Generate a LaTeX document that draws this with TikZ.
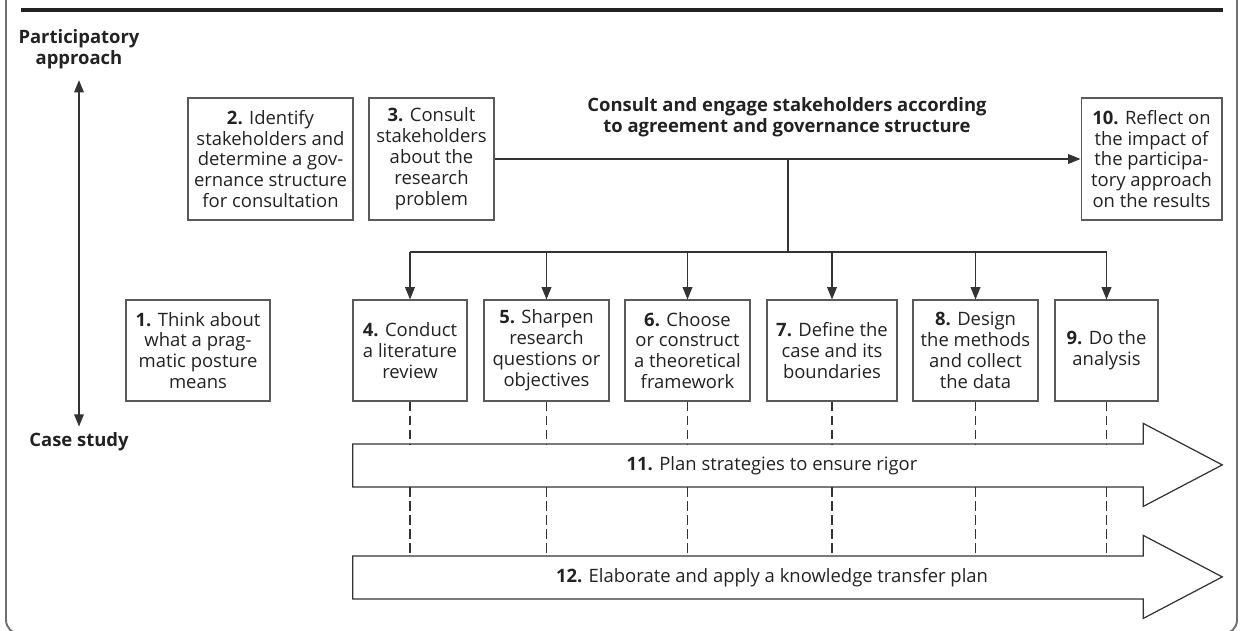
\documentclass[tikz,border=0pt]{standalone}
\usepackage{fontspec}
\setmainfont{Open Sans}
\usetikzlibrary{arrows.meta}
\usetikzlibrary{calc}

\definecolor{linegray}{HTML}{333333}
\definecolor{boxgray}{HTML}{5A5A5A}
\definecolor{framegray}{HTML}{707070}
\definecolor{textdark}{HTML}{222222}

\tikzset{
    every node/.style={font=\fontsize{10.5}{11.9}\selectfont, text=textdark},
    stepbox/.style={draw=boxgray, line width=0.6pt, align=center, inner sep=1pt},
    arr/.style={-{Triangle[length=7pt,width=5.5pt]}, line width=0.8pt, draw=linegray},
    dashline/.style={line width=0.6pt, draw=linegray, dash pattern=on 5.5pt off 2.5pt},
    shaft/.style={minimum width=15.8cm, minimum height=0.85cm, inner sep=0pt},
    bigarrow/.style={line width=0.7pt, draw=linegray}
}

\begin{document}
\begin{tikzpicture}[x=0.02cm, y=-0.02cm]
    \useasboundingbox (0,0) rectangle (1240,631);
    \draw[framegray, line width=1.1pt, rounded corners=8pt] (6,-20) rectangle (1237,634);
    \draw[textdark, line width=2.3pt] (21,10) -- (1223,10);

    \node[align=center, font=\fontsize{10.5}{11.9}\selectfont\bfseries] (pa) at (79,49) {Participatory\\approach};
    \node[font=\fontsize{10.5}{11.9}\selectfont\bfseries] (cs) at (79,442) {Case study};
    \draw[arr, {Triangle[length=7pt,width=5.5pt]}-{Triangle[length=7pt,width=5.5pt]}, shorten <=3pt] (pa.south) -- (cs.north);

    \node[stepbox, minimum width=2.88cm, minimum height=2.02cm] (b1) at (198,350.5) {\textbf{1.} Think about\\what a prag-\\matic posture\\means};
    \node[stepbox, minimum width=3.3cm, minimum height=2.44cm] (b2) at (270.5,159) {\textbf{2.} Identify\\stakeholders and\\determine a gov-\\ernance structure\\for consultation};
    \node[stepbox, minimum width=2.5cm, minimum height=2.44cm] (b3) at (431.5,159) {\textbf{3.} Consult\\stakeholders\\about the\\research\\problem};
    \node[stepbox, minimum width=2.82cm, minimum height=2.44cm] (b10) at (1151.5,159) {\textbf{10.} Reflect on\\the impact of\\the participa-\\tory approach\\on the results};
    \node[align=center, font=\fontsize{10.5}{11.9}\selectfont\bfseries] (consult) at (787,117.5) {Consult and engage stakeholders according\\to agreement and governance structure};

    \foreach \n/\x/\w/\txt in {4/410/2.28/{\textbf{4.} Conduct\\a literature\\review},
        5/546.5/2.5/{\textbf{5.} Sharpen\\research\\questions or\\objectives},
        6/687.5/2.5/{\textbf{6.} Choose\\or construct\\a theoretical\\framework},
        7/832/2.6/{\textbf{7.} Define the\\case and its\\boundaries},
        8/975.5/2.5/{\textbf{8.} Design\\the methods\\and collect\\the data},
        9/1106.5/2.06/{\textbf{9.} Do the\\analysis}}
        \node[stepbox, minimum width=\w cm, minimum height=2.02cm] (b\n) at (\x,350.5) {\txt};

    \draw[arr] (b3.east) -- (b10.west);
    \coordinate (hub) at (788,159);
    \coordinate (bus) at (788,252);
    \draw[linegray, line width=0.8pt] (hub) -- (bus);
    \draw[linegray, line width=0.8pt] (b4 |- bus) -- (b9 |- bus);
    \foreach \n in {4,...,9}
        \draw[arr] (b\n |- bus) -- (b\n.north);

    \node[shaft] (r11) at (748,465.5) {};
    \node[shaft] (r12) at (748,577.5) {};
    \foreach \r in {r11,r12}
        \draw[bigarrow] (\r.south west) -- (\r.north west) -- (\r.north east) -- ++(0,-20.5)
            -- ++(79,41.5) -- ++(-79,41.5) -- (\r.south east) -- cycle;
    \node (t11) at (772,465.5) {\textbf{11.} Plan strategies to ensure rigor};
    \node (t12) at (772,577.5) {\textbf{12.} Elaborate and apply a knowledge transfer plan};

    \foreach \n in {4,...,9} {
        \draw[dashline] (b\n.south) -- (b\n.south |- r11.north);
        \draw[dashline] (b\n.south |- r11.south) -- (b\n.south |- r12.north);
    }
\end{tikzpicture}
\end{document}
